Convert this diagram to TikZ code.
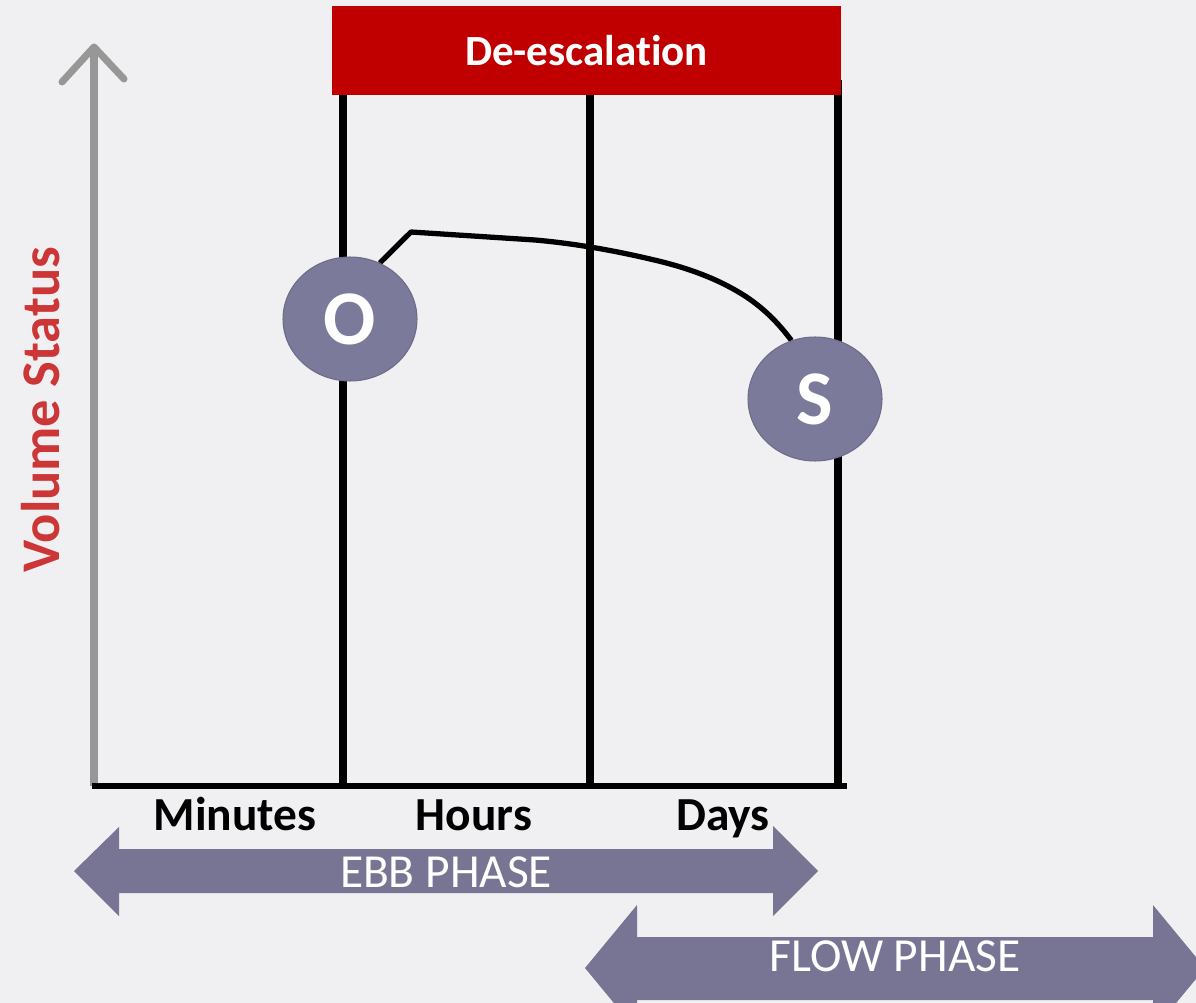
\documentclass[tikz,border=0pt]{standalone}
\usepackage{fontspec}
\setmainfont{Carlito}[Ligatures=NoCommon]
\usetikzlibrary{shapes.geometric}
\definecolor{paper}{HTML}{F0F0F2}
\definecolor{deep}{HTML}{C00000}
\definecolor{phase}{HTML}{787493}
\definecolor{markfill}{HTML}{7C7A9B}
\definecolor{axisred}{HTML}{CC3636}
\definecolor{axisgray}{HTML}{979797}
\pgfdeclarelayer{back}
\pgfsetlayers{back,main}

\begin{document}
\begin{tikzpicture}[x=0.02cm,y=-0.02cm,
  frame/.style={line width=4pt, black},
  timelbl/.style={font=\fontsize{27}{32}\selectfont\bfseries, inner sep=0pt, anchor=base},
  marker/.style={ellipse, fill=markfill, draw=markfill!88!black, line width=0.6pt,
    minimum width=2.68cm, minimum height=2.48cm, inner sep=0pt, text=white,
    font=\fontsize{44}{50}\selectfont\bfseries},
  phasebar/.style={fill=phase},
  phasetext/.style={text=white, font=\fontsize{27}{32}\selectfont, inner sep=0pt}
]
\begin{pgfonlayer}{back}
  \fill[paper] (0,0) rectangle (1196,1003);
\end{pgfonlayer}
\useasboundingbox (0,0) rectangle (1196,1003);
\clip (0,0) rectangle (1196,1003);

% vertical axis with open arrow head
\coordinate (ybase) at (94,786);
\coordinate (ytop) at (94,47);
\draw[axisgray, line width=4pt] (ybase) -- (ytop);
\draw[axisgray, line width=4pt, line cap=round, line join=round]
  (62,82) -- (ytop) -- (124,79);
\node[axisred, rotate=90, font=\fontsize{31}{36}\selectfont\bfseries] (ylabel) at (41,410) {Volume Status};

% time frame
\coordinate (x0) at (92,786);
\coordinate (x1) at (847,786);
\coordinate (a0) at (343,786); \coordinate (a1) at (343,92);
\coordinate (b0) at (590,786); \coordinate (b1) at (590,92);
\coordinate (c0) at (838,786); \coordinate (c1) at (838,80);
\draw[frame] (a0) -- (a1);
\draw[frame] (b0) -- (b1);
\draw[frame] (c0) -- (c1);
\draw[black, line width=3.6pt] (x0) -- (x1);

% header bar
\node[fill=deep, minimum width=10.18cm, minimum height=1.78cm, inner sep=0pt,
  text=white, font=\fontsize{24.5}{30}\selectfont\bfseries] (deesc) at (586.5,50.5) {De-escalation};

% markers
\node[marker] (O) at (350,319) {O};
\node[marker] (S) at (815,399) {S};

% volume curve
\begin{pgfonlayer}{back}
  \draw[black, line width=3pt, line join=round]
    (O.62) -- (411,232) -- (535,240)
    .. controls (580,244) and (620,252) .. (650,259)
    .. controls (690,268) and (720,280) .. (745,296)
    .. controls (765,309) and (780,325) .. (S.112);
\end{pgfonlayer}

% time labels
\node[timelbl] (min) at (235,830) {Minutes};
\node[timelbl] (hrs) at (474,830) {Hours};
\node[timelbl] (day) at (723,830) {Days};

% ebb phase arrow
\fill[phasebar] (74,871) -- (119,827) -- (119,849) -- (773,849) -- (773,826)
  -- (818,871) -- (773,916) -- (773,893) -- (119,893) -- (119,916) -- cycle;
\node[phasetext] (ebb) at (446,872) {EBB PHASE};

% flow phase arrow
\fill[phasebar] (585,968) -- (637,905) -- (637,937) -- (1153,937) -- (1153,905)
  -- (1205,968) -- (1153,1031) -- (1153,1000) -- (637,1000) -- (637,1031) -- cycle;
\node[phasetext] (flow) at (895,956) {FLOW PHASE};
\end{tikzpicture}
\end{document}
